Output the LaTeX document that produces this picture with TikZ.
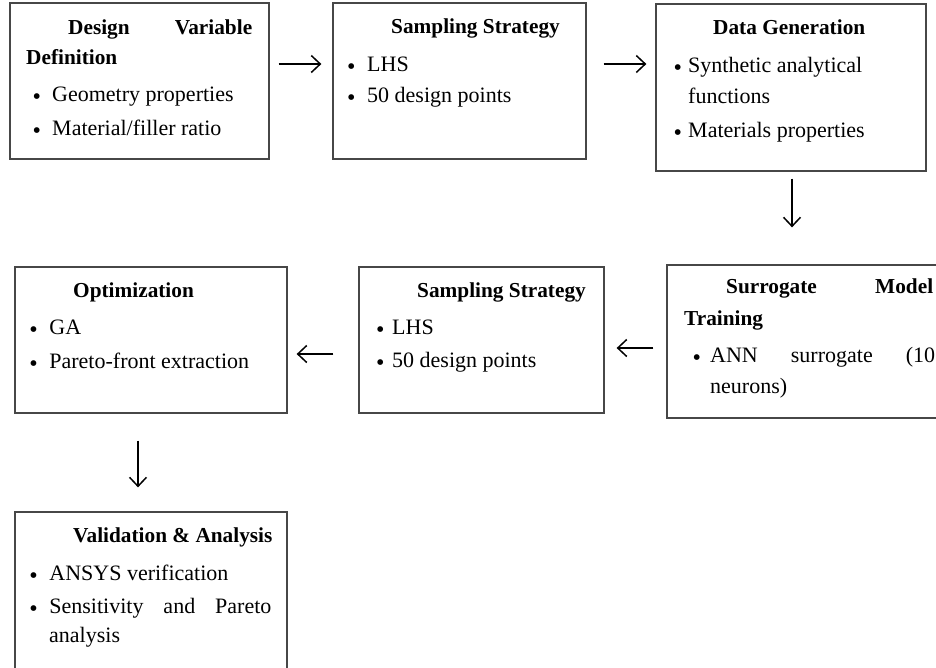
\documentclass[tikz,border=0pt]{standalone}
\usepackage{fontspec}
\setmainfont{Liberation Serif}
\usetikzlibrary{arrows.meta,calc}
\newcommand\dfs{\fontsize{22}{26}\selectfont}
\newcommand\hfs{\fontsize{21.3}{25}\selectfont}
\newcommand\bul[1]{\makebox[#1pt][l]{\hspace*{-1pt}\raisebox{-3.3pt}{\fontsize{24}{24}\selectfont •}}}
\begin{document}
\begin{tikzpicture}[x=1pt,y=-1pt,
  box/.style={draw=black!72, line width=1.3pt, inner sep=0pt},
  ln/.style={anchor=base west, inner sep=0pt, font=\dfs},
  hd/.style={anchor=base west, inner sep=0pt, font=\hfs\bfseries},
  arr/.style={-{Straight Barb[length=9pt,width=17pt,line width=1.5pt]}, line width=1.5pt}]
\useasboundingbox (0,0) rectangle (936,667);
\clip (0,0) rectangle (936,667);
\fill[white] (0,0) rectangle (936,667);

% boxes
\node[box, minimum width=259pt, minimum height=156pt] (b1) at (139.5,81) {};
\node[box, minimum width=253pt, minimum height=156pt] (b2) at (459.5,81) {};
\node[box, minimum width=270pt, minimum height=167pt] (b3) at (791,87.5) {};
\node[box, minimum width=272pt, minimum height=146pt] (b4) at (151,340) {};
\node[box, minimum width=245pt, minimum height=146pt] (b5) at (481.5,340) {};
\node[box, minimum width=283pt, minimum height=153pt] (b6) at (808.5,341.5) {};
\node[box, minimum width=272pt, minimum height=188pt] (b7) at (151,606) {};

% box 1
\node[hd] (t1a) at (68,34) {\hbox to 184pt{Design\hfill Variable}};
\node[hd] (t1b) at (26,64) {Definition};
\node[ln] (t1c) at (33.5,101) {\bul{18.5}Geometry properties};
\node[ln] (t1d) at (33.5,135) {\bul{18.5}Material/filler ratio};

% box 2
\node[hd] (t2a) at (391,33) {Sampling Strategy};
\node[ln] (t2b) at (348,71) {\bul{19}LHS};
\node[ln] (t2c) at (348,102) {\bul{19}50 design points};

% box 3
\node[hd] (t3a) at (713,34) {Data Generation};
\node[ln] (t3b) at (674.5,72) {\bul{13.5}Synthetic analytical};
\node[ln] (t3c) at (688,103) {functions};
\node[ln] (t3d) at (674.5,137) {\bul{13.5}Materials properties};

% box 4
\node[hd] (t4a) at (73,297) {Optimization};
\node[ln] (t4b) at (30.2,334) {\bul{19}GA};
\node[ln] (t4c) at (30.2,368) {\bul{19}Pareto-front extraction};

% box 5
\node[hd] (t5a) at (417,297) {Sampling Strategy};
\node[ln] (t5b) at (377,334) {\bul{15}LHS};
\node[ln] (t5c) at (377,367) {\bul{15}50 design points};

% box 6
\node[hd] (t6a) at (726,293) {\hbox to 207pt{Surrogate\hfill Model}};
\node[hd] (t6b) at (684,325) {Training};
\node[ln] (t6c) at (693.5,362) {\bul{16.5}\hbox to 225pt{ANN\hfill surrogate\hfill (10}};
\node[ln] (t6d) at (710,393) {neurons)};

% box 7
\node[hd] (t7a) at (73,542) {Validation \& Analysis};
\node[ln] (t7b) at (30.2,580) {\bul{19}ANSYS verification};
\node[ln] (t7c) at (30.2,613) {\bul{19}\hbox to 222pt{Sensitivity\hfill and\hfill Pareto}};
\node[ln] (t7d) at (49,642) {analysis};

% connectors
\draw[arr, shorten <=9pt, shorten >=11pt] ($(b1.east)+(0,-17)$) -- ($(b2.west)+(0,-17)$);
\draw[arr, shorten <=17pt, shorten >=9pt] ($(b2.east)+(0,-17)$) -- ($(b3.west)+(0,-23.5)$);
\coordinate (c3) at ($(b3.south)+(1,0)$);
\draw[arr, shorten <=7pt, shorten >=37pt] (c3) -- (c3 |- b6.north);
\draw[arr, shorten <=13pt, shorten >=12pt] ($(b6.west)+(0,6.5)$) -- ($(b5.east)+(0,8)$);
\draw[arr, shorten <=25pt, shorten >=9pt] ($(b5.west)+(0,14)$) -- ($(b4.east)+(0,14)$);
\coordinate (c4) at ($(b4.south)+(-13,0)$);
\draw[arr, shorten <=27pt, shorten >=24pt] (c4) -- (c4 |- b7.north);
\end{tikzpicture}
\end{document}
